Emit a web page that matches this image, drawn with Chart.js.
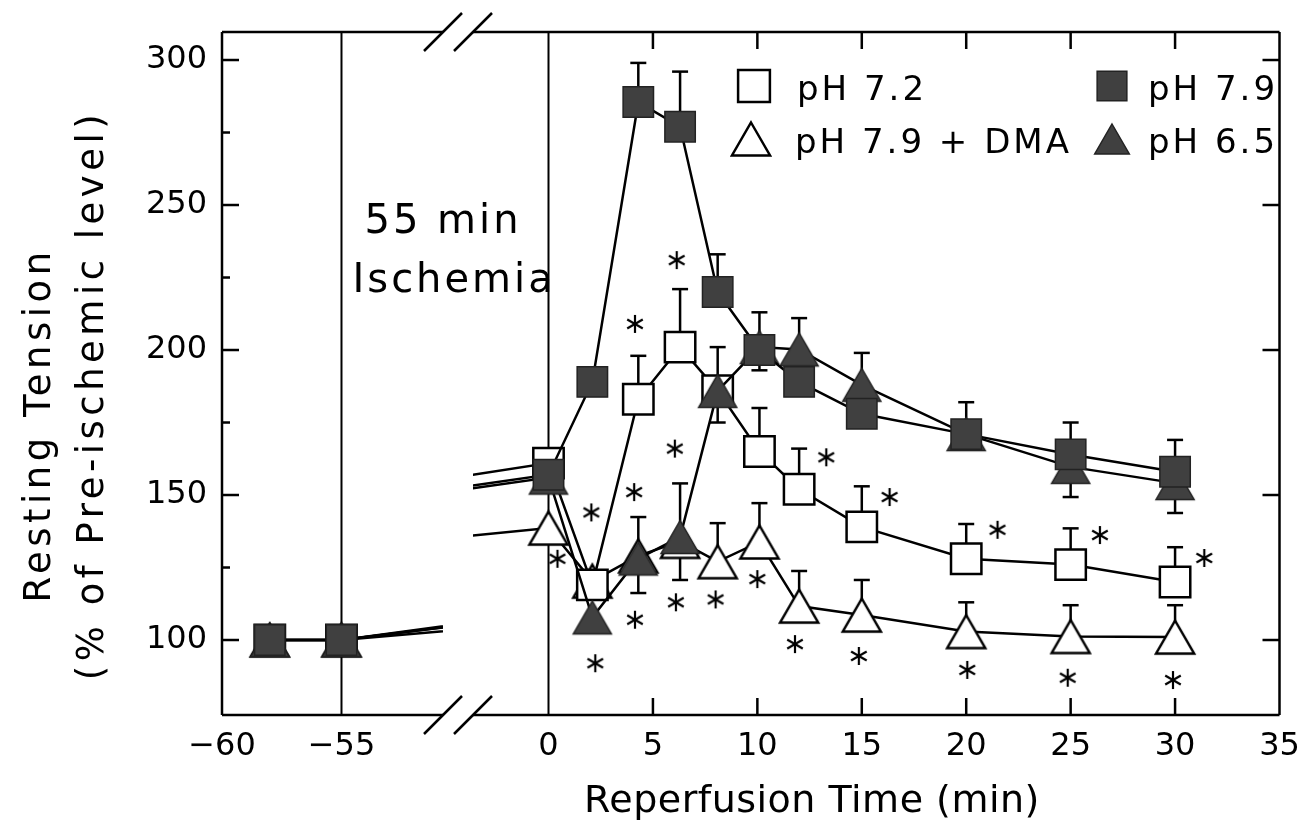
<!DOCTYPE html>
<html>
<head>
<meta charset="utf-8">
<title>Resting Tension vs Reperfusion Time</title>
<script src="https://cdn.jsdelivr.net/npm/chart.js@4.4.1/dist/chart.umd.min.js"></script>
<style>
html,body{margin:0;padding:0;background:#ffffff;}
#wrap{width:1304px;height:840px;}
canvas{display:block;}
</style>
</head>
<body>
<div id="wrap"><canvas id="chart" width="1304" height="840"></canvas></div>
<script>
// ---------------- data ----------------
const times      = [-58, -55, 0, 2.1, 4.3, 6.3, 8.1, 10.1, 12, 15, 20, 25, 30];
const ph72       = [100, 100, 161, 119, 183, 201, 186, 165, 152, 139, 128, 126, 120];
const ph79       = [100, 100, 157, 189, 285.5, 277, 220, 200, 189, 178, 171, 164, 158];
const ph79dma    = [100, 100, 138.6, 120.3, 129, 134, 127, 133.8, 111.7, 108.6, 102.9, 101.2, 101];
const ph65       = [100, 100, 156, 107.8, 128.1, 135.5, 185.9, 201, 200.2, 188, 171, 159.7, 154.1];
const ph72Err    = [null, null, null, null, 15, 20, 15, 15, 14, 14, 12, 12.5, 12];
const ph79Err    = [null, null, null, null, 13.5, 19, 13, 13, 22, 21, 11, 11, 11];
const ph79dmaErr = [null, null, null, null, 13.4, 20, 13.3, 13.4, 12.1, 12.1, 10.1, 10.8, 11];
const ph65Err    = [null, null, null, null, 11.9, 14.8, 10.9, 8, 8, 8, 3, 10.4, 10.3];
const asteriskT  = [0.43, 2.05, 2.24, 4.1, 4.14, 4.14, 6.05, 6.14, 6.1, 8, 10, 11.8, 13.3, 14.86, 16.33, 20.05, 21.5, 24.86, 26.4, 29.9, 31.4];
const asteriskV  = [128, 144, 92, 151, 209, 107, 166, 231, 113, 114, 121, 98.6, 163, 94.5, 149.3, 89.7, 138, 87, 136.2, 86.2, 128.3];
const yTicks      = [100, 150, 200, 250, 300];
const yMinorTicks = [125, 175, 225, 275];
const xTicksLeft  = [-60, -55];
const xTicksRight = [0, 5, 10, 15, 20, 25, 30, 35];
const seriesLabels = ['pH 7.2', 'pH 7.9', 'pH 7.9 + DMA', 'pH 6.5'];
const yTitleLines = ['Resting Tension', '(% of Pre-ischemic level)'];
const xTitle = 'Reperfusion Time (min)';
const ischemiaLines = ['55 min', 'Ischemia'];

// ---------------- styling ----------------
const FONT = 'DejaVu Sans';
const GAP = 15;
const FILL = '#404040';

function fmtTick(v) { return v < 0 ? '\u2212' + Math.abs(v) : String(v); }
function pts(vals, from, to) {
  const out = [];
  for (let i = from; i < to; i++) out.push({x: times[i], y: vals[i]});
  return out;
}
function makeAsterisk() {
  const size = 20, c = document.createElement('canvas');
  c.width = size; c.height = size;
  const g = c.getContext('2d');
  g.strokeStyle = '#000'; g.lineWidth = 2.2;
  const r = size / 2 - 1, cx = size / 2;
  for (let k = 0; k < 3; k++) {
    const a = Math.PI / 2 + k * Math.PI / 3;
    g.beginPath();
    g.moveTo(cx + r * Math.cos(a), cx + r * Math.sin(a));
    g.lineTo(cx - r * Math.cos(a), cx - r * Math.sin(a));
    g.stroke();
  }
  return c;
}
// triangle centred on its bounding box (as in the original plot)
function triPath(ctx, cx, cy, r) {
  const hw = 0.866 * r, hh = 0.75 * r;
  ctx.beginPath();
  ctx.moveTo(cx, cy - hh);
  ctx.lineTo(cx + hw, cy + hh);
  ctx.lineTo(cx - hw, cy + hh);
  ctx.closePath();
}
function makeTriangle(fill, stroke, lw, r) {
  const W = 2 * Math.ceil(0.866 * r + lw + 1), H = 2 * Math.ceil(0.75 * r + lw + 1);
  const c = document.createElement('canvas');
  c.width = W; c.height = H;
  const g = c.getContext('2d');
  g.lineJoin = 'miter';
  triPath(g, W / 2, H / 2, r);
  g.fillStyle = fill; g.fill();
  g.strokeStyle = stroke; g.lineWidth = lw; g.stroke();
  return c;
}

const markerStyles = {
  openSq:  {pointStyle: 'rect', pointRadius: 21.5, pointBackgroundColor: '#ffffff', pointBorderColor: '#000', pointBorderWidth: 2.5},
  fillSq:  {pointStyle: 'rect', pointRadius: 21.5, pointBackgroundColor: FILL, pointBorderColor: '#222', pointBorderWidth: 1.5},
  openTri: {pointStyle: makeTriangle('#ffffff', '#000', 2.5, 22), pointRadius: 22},
  fillTri: {pointStyle: makeTriangle(FILL, '#222', 1.5, 22), pointRadius: 22}
};
const series = [
  {label: seriesLabels[0], vals: ph72,    err: ph72Err,    dir: 1,  marker: 'openSq',  order: 3},
  {label: seriesLabels[1], vals: ph79,    err: ph79Err,    dir: 1,  marker: 'fillSq',  order: 1},
  {label: seriesLabels[2], vals: ph79dma, err: ph79dmaErr, dir: 1,  marker: 'openTri', order: 4},
  {label: seriesLabels[3], vals: ph65,    err: ph65Err,    dir: -1, marker: 'fillTri', order: 2}
];

const datasets = [];
series.forEach(s => {
  const common = Object.assign({
    label: s.label, showLine: true, borderColor: '#000', borderWidth: 2.5,
    backgroundColor: '#000', fill: false, tension: 0, order: s.order, clip: false
  }, markerStyles[s.marker]);
  datasets.push(Object.assign({}, common, {data: pts(s.vals, 0, 3), xAxisID: 'xL', yAxisID: 'y', panel: 'L'}));
  datasets.push(Object.assign({}, common, {data: pts(s.vals, 1, times.length), xAxisID: 'xR', yAxisID: 'y', panel: 'R'}));
});
datasets.push({
  label: 'significance', data: asteriskT.map((t, i) => ({x: t, y: asteriskV[i]})),
  xAxisID: 'xR', yAxisID: 'y', showLine: false, pointStyle: makeAsterisk(),
  pointRadius: 10, order: 0, clip: false
});

// ---------------- plugins ----------------
function seg(ctx, x1, y1, x2, y2) { ctx.beginPath(); ctx.moveTo(x1, y1); ctx.lineTo(x2, y2); ctx.stroke(); }

const panelClip = {
  id: 'panelClip',
  beforeDatasetDraw(chart, args) {
    const ds = chart.data.datasets[args.index];
    if (!ds.panel) return;
    const ctx = chart.ctx;
    ctx.save();
    ctx.beginPath();
    if (ds.panel === 'L') {
      const r = chart.scales.xL.right - GAP;
      ctx.rect(0, 0, r, chart.height);
    } else {
      const l = chart.scales.xR.left + GAP;
      ctx.rect(l, 0, chart.width - l, chart.height);
    }
    ctx.clip();
  },
  afterDatasetDraw(chart, args) {
    const ds = chart.data.datasets[args.index];
    if (ds.panel) chart.ctx.restore();
  }
};

const framePlugin = {
  id: 'frame',
  beforeDatasetsDraw(chart) {
    const {ctx, chartArea: a, scales: {xL, xR, y}} = chart;
    const bL = xL.right - GAP, bR = xR.left + GAP;
    ctx.save();
    ctx.strokeStyle = '#000';
    ctx.lineWidth = 2.5;
    ctx.lineCap = 'butt';
    seg(ctx, a.left, a.top, a.left, a.bottom);
    seg(ctx, a.right, a.top, a.right, a.bottom);
    seg(ctx, a.left, a.top, bL, a.top);
    seg(ctx, bR, a.top, a.right, a.top);
    seg(ctx, a.left, a.bottom, bL, a.bottom);
    seg(ctx, bR, a.bottom, a.right, a.bottom);
    for (const yy of [a.top, a.bottom]) for (const xx of [bL, bR]) seg(ctx, xx - 19, yy + 19, xx + 19, yy - 19);
    // reference lines at -55 and 0
    ctx.lineWidth = 2;
    const p55 = xL.getPixelForValue(-55), p0 = xR.getPixelForValue(0);
    seg(ctx, p55, a.top, p55, a.bottom);
    seg(ctx, p0, a.top, p0, a.bottom);
    // y tick marks (inward)
    ctx.lineWidth = 2.5;
    yTicks.forEach(v => {
      const py = y.getPixelForValue(v);
      seg(ctx, a.left, py, a.left + 17, py);
      seg(ctx, a.right - 17, py, a.right, py);
    });
    yMinorTicks.forEach(v => {
      const py = y.getPixelForValue(v);
      seg(ctx, a.left, py, a.left + 8, py);
    });
    // x tick marks (inward, top and bottom)
    xTicksRight.forEach(v => {
      if (v <= 0 || v >= xR.max) return;
      const px = xR.getPixelForValue(v);
      seg(ctx, px, a.bottom, px, a.bottom - 17);
      seg(ctx, px, a.top, px, a.top + 17);
    });
    // error bars (drawn beneath markers)
    series.forEach(s => {
      s.err.forEach((e, i) => {
        if (e == null || times[i] < 0) return;
        const px = xR.getPixelForValue(times[i]);
        const py = y.getPixelForValue(s.vals[i]);
        const pe = y.getPixelForValue(s.vals[i] + s.dir * e);
        seg(ctx, px, py, px, pe);
        seg(ctx, px - 8, pe, px + 8, pe);
      });
    });
    ctx.restore();
  }
};

function drawLegendMarker(ctx, kind, x, y, r) {
  if (kind === 'openSq' || kind === 'fillSq') {
    const st = markerStyles[kind];
    const s = r * Math.SQRT1_2;
    ctx.beginPath();
    ctx.rect(x - s, y - s, 2 * s, 2 * s);
    ctx.fillStyle = st.pointBackgroundColor; ctx.fill();
    ctx.strokeStyle = st.pointBorderColor; ctx.lineWidth = st.pointBorderWidth; ctx.stroke();
  } else {
    triPath(ctx, x, y, r);
    ctx.fillStyle = kind === 'openTri' ? '#ffffff' : FILL; ctx.fill();
    ctx.strokeStyle = kind === 'openTri' ? '#000' : '#222';
    ctx.lineWidth = kind === 'openTri' ? 2.5 : 1.5; ctx.stroke();
  }
}

const textPlugin = {
  id: 'texts',
  afterDraw(chart) {
    const {ctx, scales: {xL, y}} = chart;
    ctx.save();
    ctx.fillStyle = '#000';
    // ischemia annotation
    ctx.font = '40px "' + FONT + '"';
    ctx.letterSpacing = '3px';
    ctx.textAlign = 'left';
    ctx.textBaseline = 'alphabetic';
    const p55 = xL.getPixelForValue(-55);
    ctx.fillText(ischemiaLines[0], p55 + 23, y.getPixelForValue(240.5));
    ctx.fillText(ischemiaLines[1], p55 + 11, y.getPixelForValue(220));
    // legend (2 x 2 inside plot)
    const legendItems = [
      {kind: 'openSq',  label: seriesLabels[0], mx: 754,  tx: 797,  cy: 87,  r: 22.5},
      {kind: 'fillSq',  label: seriesLabels[1], mx: 1112, tx: 1148, cy: 87,  r: 21},
      {kind: 'openTri', label: seriesLabels[2], mx: 751,  tx: 795,  cy: 140, r: 22},
      {kind: 'fillTri', label: seriesLabels[3], mx: 1112, tx: 1148, cy: 140, r: 20}
    ];
    ctx.font = '34px "' + FONT + '"';
    ctx.letterSpacing = '3px';
    legendItems.forEach(it => {
      drawLegendMarker(ctx, it.kind, it.mx, it.cy - 1, it.r);
      ctx.fillStyle = '#000';
      ctx.fillText(it.label, it.tx, it.cy + 12.5);
    });
    // y axis title (two rotated lines)
    ctx.font = '37px "' + FONT + '"';
    ctx.letterSpacing = '4.5px';
    ctx.textAlign = 'center';
    const tl = [[50, 425], [103, 395]];
    yTitleLines.forEach((t, i) => {
      ctx.save();
      ctx.translate(tl[i][0], tl[i][1]);
      ctx.rotate(-Math.PI / 2);
      ctx.fillText(t, 0, 0);
      ctx.restore();
    });
    // x axis title
    ctx.font = '38px "' + FONT + '"';
    ctx.letterSpacing = '0.5px';
    ctx.fillText(xTitle, 812, 812);
    ctx.restore();
  }
};

// ---------------- chart ----------------
const tickFont = {family: FONT, size: 32};
const xCommon = {
  type: 'linear', position: 'bottom', stack: 'xb',
  grid: {display: false, drawTicks: true, tickLength: 12},
  border: {display: false},
  ticks: {padding: 0, font: tickFont, color: '#000', autoSkip: false, maxRotation: 0, minRotation: 0, callback: fmtTick},
  afterFit: s => { s.height = 125; s.paddingLeft = 0; s.paddingRight = 0; }
};

new Chart(document.getElementById('chart'), {
  type: 'scatter',
  data: {datasets},
  options: {
    responsive: false,
    animation: false,
    devicePixelRatio: 1,
    events: [],
    layout: {padding: {top: 32, right: 20, left: 0, bottom: 0}},
    plugins: {legend: {display: false}, tooltip: {enabled: false}},
    scales: {
      xL: Object.assign({}, xCommon, {
        min: -60, max: -50.125, stackWeight: 237,
        afterBuildTicks: s => { s.ticks = xTicksLeft.map(v => ({value: v})); }
      }),
      xR: Object.assign({}, xCommon, {
        min: -4.3333, max: 35, stackWeight: 825,
        afterBuildTicks: s => { s.ticks = xTicksRight.map(v => ({value: v})); }
      }),
      y: {
        type: 'linear', position: 'left', min: 74.14, max: 309.66,
        grid: {display: false, drawTicks: false},
        border: {display: false},
        ticks: {padding: 15, font: tickFont, color: '#000', autoSkip: false},
        afterBuildTicks: s => { s.ticks = yTicks.map(v => ({value: v})); },
        afterFit: s => { s.width = 222; s.paddingTop = 0; s.paddingBottom = 0; }
      }
    }
  },
  plugins: [panelClip, framePlugin, textPlugin]
});
</script>
</body>
</html>
